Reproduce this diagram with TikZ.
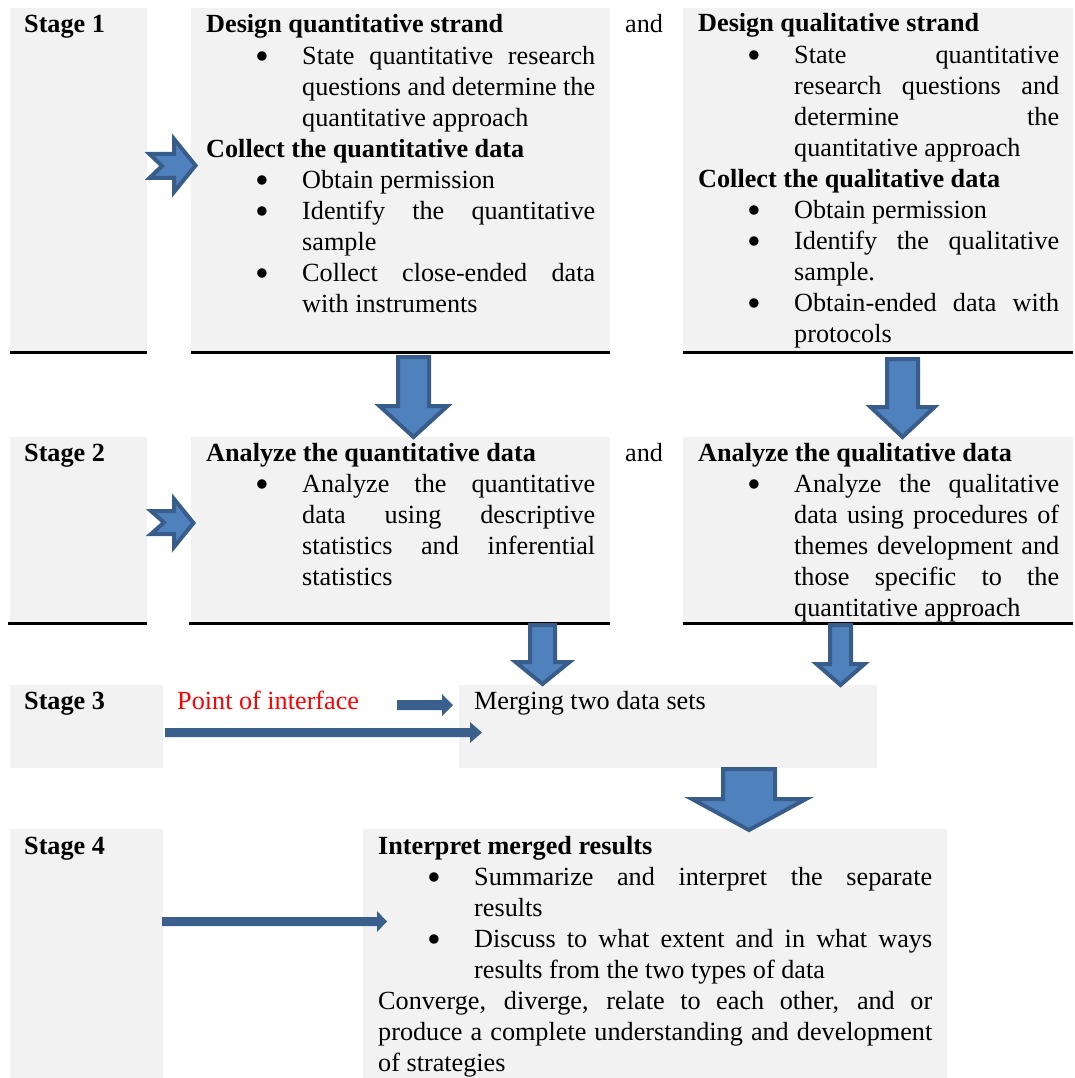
\documentclass[tikz,border=0pt]{standalone}
\usepackage{fontspec}
\usepackage{graphicx}
\setmainfont{LiberationSerif}[Extension=.ttf, UprightFont=*-Regular, BoldFont=*-Bold,
  ItalicFont=*-Italic, BoldItalicFont=*-BoldItalic]
\usetikzlibrary{calc}

\definecolor{boxgray}{HTML}{F2F2F2}
\definecolor{arrowfill}{HTML}{4F81BD}
\definecolor{arrowline}{HTML}{385D8A}
\definecolor{flatblue}{HTML}{3A5F8C}

% justified line break without trailing space
\newcommand\brk{\unskip\linebreak}
% a slightly larger list bullet
\newcommand\bigbullet{\raisebox{-5pt}{\scalebox{1.5}{\textbullet}}}
% bulleted paragraph: bullet 49pt in, text hanging at 96pt
\newcommand\bitem[1]{\par\hangindent=96pt\hangafter=0\noindent\llap{\makebox[47pt][l]{\bigbullet}}\ignorespaces#1\par}
% text block whose first baseline sits on the anchor point
\newcommand\textblock[2]{\parbox[t]{#1}{\fontsize{26.2}{31.1}\selectfont
  \tolerance=10000 \hbadness=10000 \hyphenpenalty=10000 \exhyphenpenalty=10000
  \parindent=0pt \parskip=0pt #2}}
% downward block arrow: centre x, top, shoulder, tip, shaft half width, head half width
\newcommand\blockdown[6]{%
  \draw[blockarrow] (#1-#5,#2) -- (#1+#5,#2) -- (#1+#5,#3) -- (#1+#6,#3) -- (#1,#4)
    -- (#1-#6,#3) -- (#1-#5,#3) -- cycle;}
% flat right arrow: tail x, shoulder x, tip x, centre y, shaft half height, head half height
\newcommand\flatright[6]{%
  \fill[flatblue] (#1,#4-#5) -- (#2,#4-#5) -- (#2,#4-#6) -- (#3,#4) -- (#2,#4+#6)
    -- (#2,#4+#5) -- (#1,#4+#5) -- cycle;}

\begin{document}
\begin{tikzpicture}[x=1pt,y=-1pt,
  box/.style={fill=boxgray,draw=none,inner sep=0pt,anchor=north west},
  rule/.style={line width=2.5pt,black},
  blockarrow/.style={fill=arrowfill,draw=arrowline,line width=4pt,line join=miter},
  lbl/.style={inner sep=0pt,anchor=base west,font=\fontsize{26.2}{31.1}\selectfont},
  blk/.style={inner sep=0pt,anchor=base west}]
\useasboundingbox (0,0) rectangle (1074,1078);

% ---------- boxes ----------
\node[box,minimum width=137pt,minimum height=344pt] (s1)  at (10,8) {};
\node[box,minimum width=419pt,minimum height=344pt] (qn1) at (191,8) {};
\node[box,minimum width=390pt,minimum height=344pt] (ql1) at (683,8) {};

\node[box,minimum width=137pt,minimum height=186pt] (s2)  at (10,437) {};
\node[box,minimum width=419pt,minimum height=186pt] (qn2) at (191,437) {};
\node[box,minimum width=390pt,minimum height=186pt] (ql2) at (683,437) {};

\node[box,minimum width=153pt,minimum height=83pt] (s3) at (10,685) {};
\node[box,minimum width=418pt,minimum height=83pt] (mg) at (459,685) {};

\node[box,minimum width=153pt,minimum height=249pt] (s4) at (10,829) {};
\node[box,minimum width=584pt,minimum height=249pt] (ip) at (363,829) {};

% ---------- rules under stages 1 and 2 ----------
\draw[rule] (s1.south west) -- (s1.south east);
\draw[rule] (qn1.south west) -- (qn1.south east);
\draw[rule] (ql1.south west) -- (ql1.south east);
\draw[rule] ($(s2.south west)+(-2,0)$) -- (s2.south east);
\draw[rule] ($(qn2.south west)+(-2,0)$) -- (qn2.south east);
\draw[rule] (ql2.south west) -- (ql2.south east);

% ---------- stage labels ----------
\node[lbl] (l1) at (24,33) {\textbf{Stage 1}};
\node[lbl] (l2) at (24,461) {\textbf{Stage 2}};
\node[lbl] (l3) at (24,709) {\textbf{Stage 3}};
\node[lbl] (l4) at (24,854) {\textbf{Stage 4}};
\node[lbl] (and1) at (625,33) {and};
\node[lbl] (and2) at (625,461) {and};
\node[lbl,text=red] (poi) at (177,709) {Point of interface};
\node[lbl] (mgt) at (474,709) {Merging two data sets};

% ---------- stage 1 texts ----------
\node[blk] (qn1t) at (206,33) {\textblock{389pt}{%
\textbf{Design quantitative strand}\par
\bitem{State quantitative research \brk questions and determine the \brk quantitative approach}
\textbf{Collect the quantitative data}\par
\bitem{Obtain permission}
\bitem{Identify the quantitative \brk sample}
\bitem{Collect close-ended data \brk with instruments}}};

\node[blk] (ql1t) at (698,32) {\textblock{361pt}{%
\textbf{Design qualitative strand}\par
\bitem{State quantitative \brk research questions and \brk determine the \brk quantitative approach}
\textbf{Collect the qualitative data}\par
\bitem{Obtain permission}
\bitem{Identify the qualitative \brk sample.}
\bitem{Obtain-ended data with \brk protocols}}};

% ---------- stage 2 texts ----------
\node[blk] (qn2t) at (206,461) {\textblock{389pt}{%
\textbf{Analyze the quantitative data}\par
\bitem{Analyze the quantitative \brk data using descriptive \brk statistics and inferential \brk statistics}}};

\node[blk] (ql2t) at (698,461) {\textblock{361pt}{%
\textbf{Analyze the qualitative data}\par
\bitem{Analyze the qualitative \brk data using procedures of \brk themes development and \brk those specific to the \brk quantitative approach}}};

% ---------- stage 4 text ----------
\node[blk] (ipt) at (378,854) {\textblock{554pt}{%
\textbf{Interpret merged results}\par
\bitem{Summarize and interpret the separate \brk results}
\bitem{Discuss to what extent and in what ways \brk results from the two types of data}
Converge, diverge, relate to each other, and or \brk produce a complete understanding and development \brk of strategies\par}};

% ---------- notched arrows into stages 1 and 2 ----------
\draw[blockarrow] (149.5,154) -- (174,154) -- (174,139) -- (195.5,165.5) -- (174,192)
  -- (174,178) -- (149.5,178) -- (162,166) -- cycle;
\draw[blockarrow] (151,511) -- (174,511) -- (174,499) -- (193.5,523) -- (174,547)
  -- (174,534) -- (151,534) -- (164,522.5) -- cycle;

% ---------- downward block arrows ----------
\blockdown{413.5}{357}{406}{437}{15.5}{34}
\blockdown{902.5}{359}{407}{437}{15.5}{32}
\blockdown{542.5}{625}{662}{684}{12.5}{27}
\blockdown{840.5}{625}{664}{685}{10.5}{24}
\blockdown{749}{769}{799}{830}{26}{57}

% ---------- flat arrows ----------
\flatright{397}{442}{453}{705}{5}{11}
\flatright{165}{470}{482}{732.5}{4.5}{10.5}
\flatright{162}{377}{387}{921.5}{4.5}{10.5}
\end{tikzpicture}
\end{document}
